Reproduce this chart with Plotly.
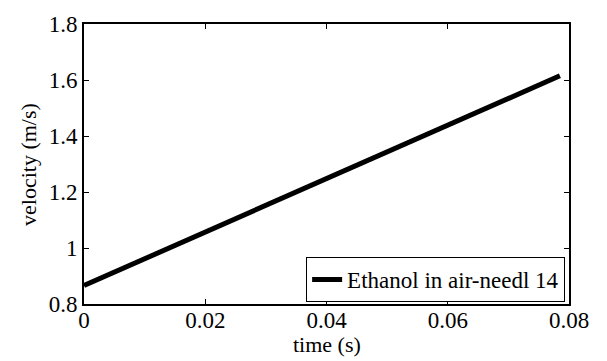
import plotly.graph_objects as go

time_s = [0, 0.01, 0.02, 0.03, 0.04, 0.05, 0.06, 0.07, 0.0785]
velocity = [0.866, 0.961, 1.057, 1.152, 1.248, 1.343, 1.438, 1.534, 1.615]
series_name = "Ethanol in air-needl 14"
x_ticks = [0, 0.02, 0.04, 0.06, 0.08]
x_labels = ["0", "0.02", "0.04", "0.06", "0.08"]
y_ticks = [0.8, 1, 1.2, 1.4, 1.6, 1.8]
y_labels = ["0.8", "1", "1.2", "1.4", "1.6", "1.8"]

font = "Liberation Serif"
fs = 23

fig = go.Figure()
fig.add_trace(go.Scatter(x=time_s, y=velocity, mode="lines", name=series_name,
                         line=dict(color="black", width=5)))

axis_common = dict(showline=True, linecolor="black", linewidth=2, mirror="ticks",
                   ticks="inside", ticklen=5, tickwidth=1, tickcolor="black",
                   showgrid=False, zeroline=False,
                   tickfont=dict(family=font, size=fs, color="black"))

fig.update_layout(
    width=607, height=361,
    margin=dict(l=84, r=38, t=16, b=57),
    paper_bgcolor="white", plot_bgcolor="white",
    font=dict(family=font, size=fs, color="black"),
    showlegend=True,
    legend=dict(x=0.992, y=0.007, xanchor="right", yanchor="bottom",
                bordercolor="black", borderwidth=1, bgcolor="white",
                font=dict(family=font, size=23, color="black"),
                itemwidth=30, tracegroupgap=0),
    xaxis=dict(range=[0, 0.08], tickvals=x_ticks, ticktext=x_labels,
               ticklabelstandoff=-6, **axis_common),
    yaxis=dict(range=[0.8, 1.8], tickvals=y_ticks, ticktext=y_labels,
               ticklabelstandoff=0, **axis_common),
    annotations=[
        dict(text="time (s)", xref="paper", yref="paper", x=0.5, y=-0.145,
             xanchor="center", yanchor="middle", showarrow=False,
             font=dict(family=font, size=22, color="black")),
        dict(text="velocity (m/s)", xref="paper", yref="paper", x=-0.1155, y=0.5,
             xanchor="center", yanchor="middle", textangle=-90, showarrow=False,
             font=dict(family=font, size=22, color="black")),
    ],
)

fig.write_html("out.html")
